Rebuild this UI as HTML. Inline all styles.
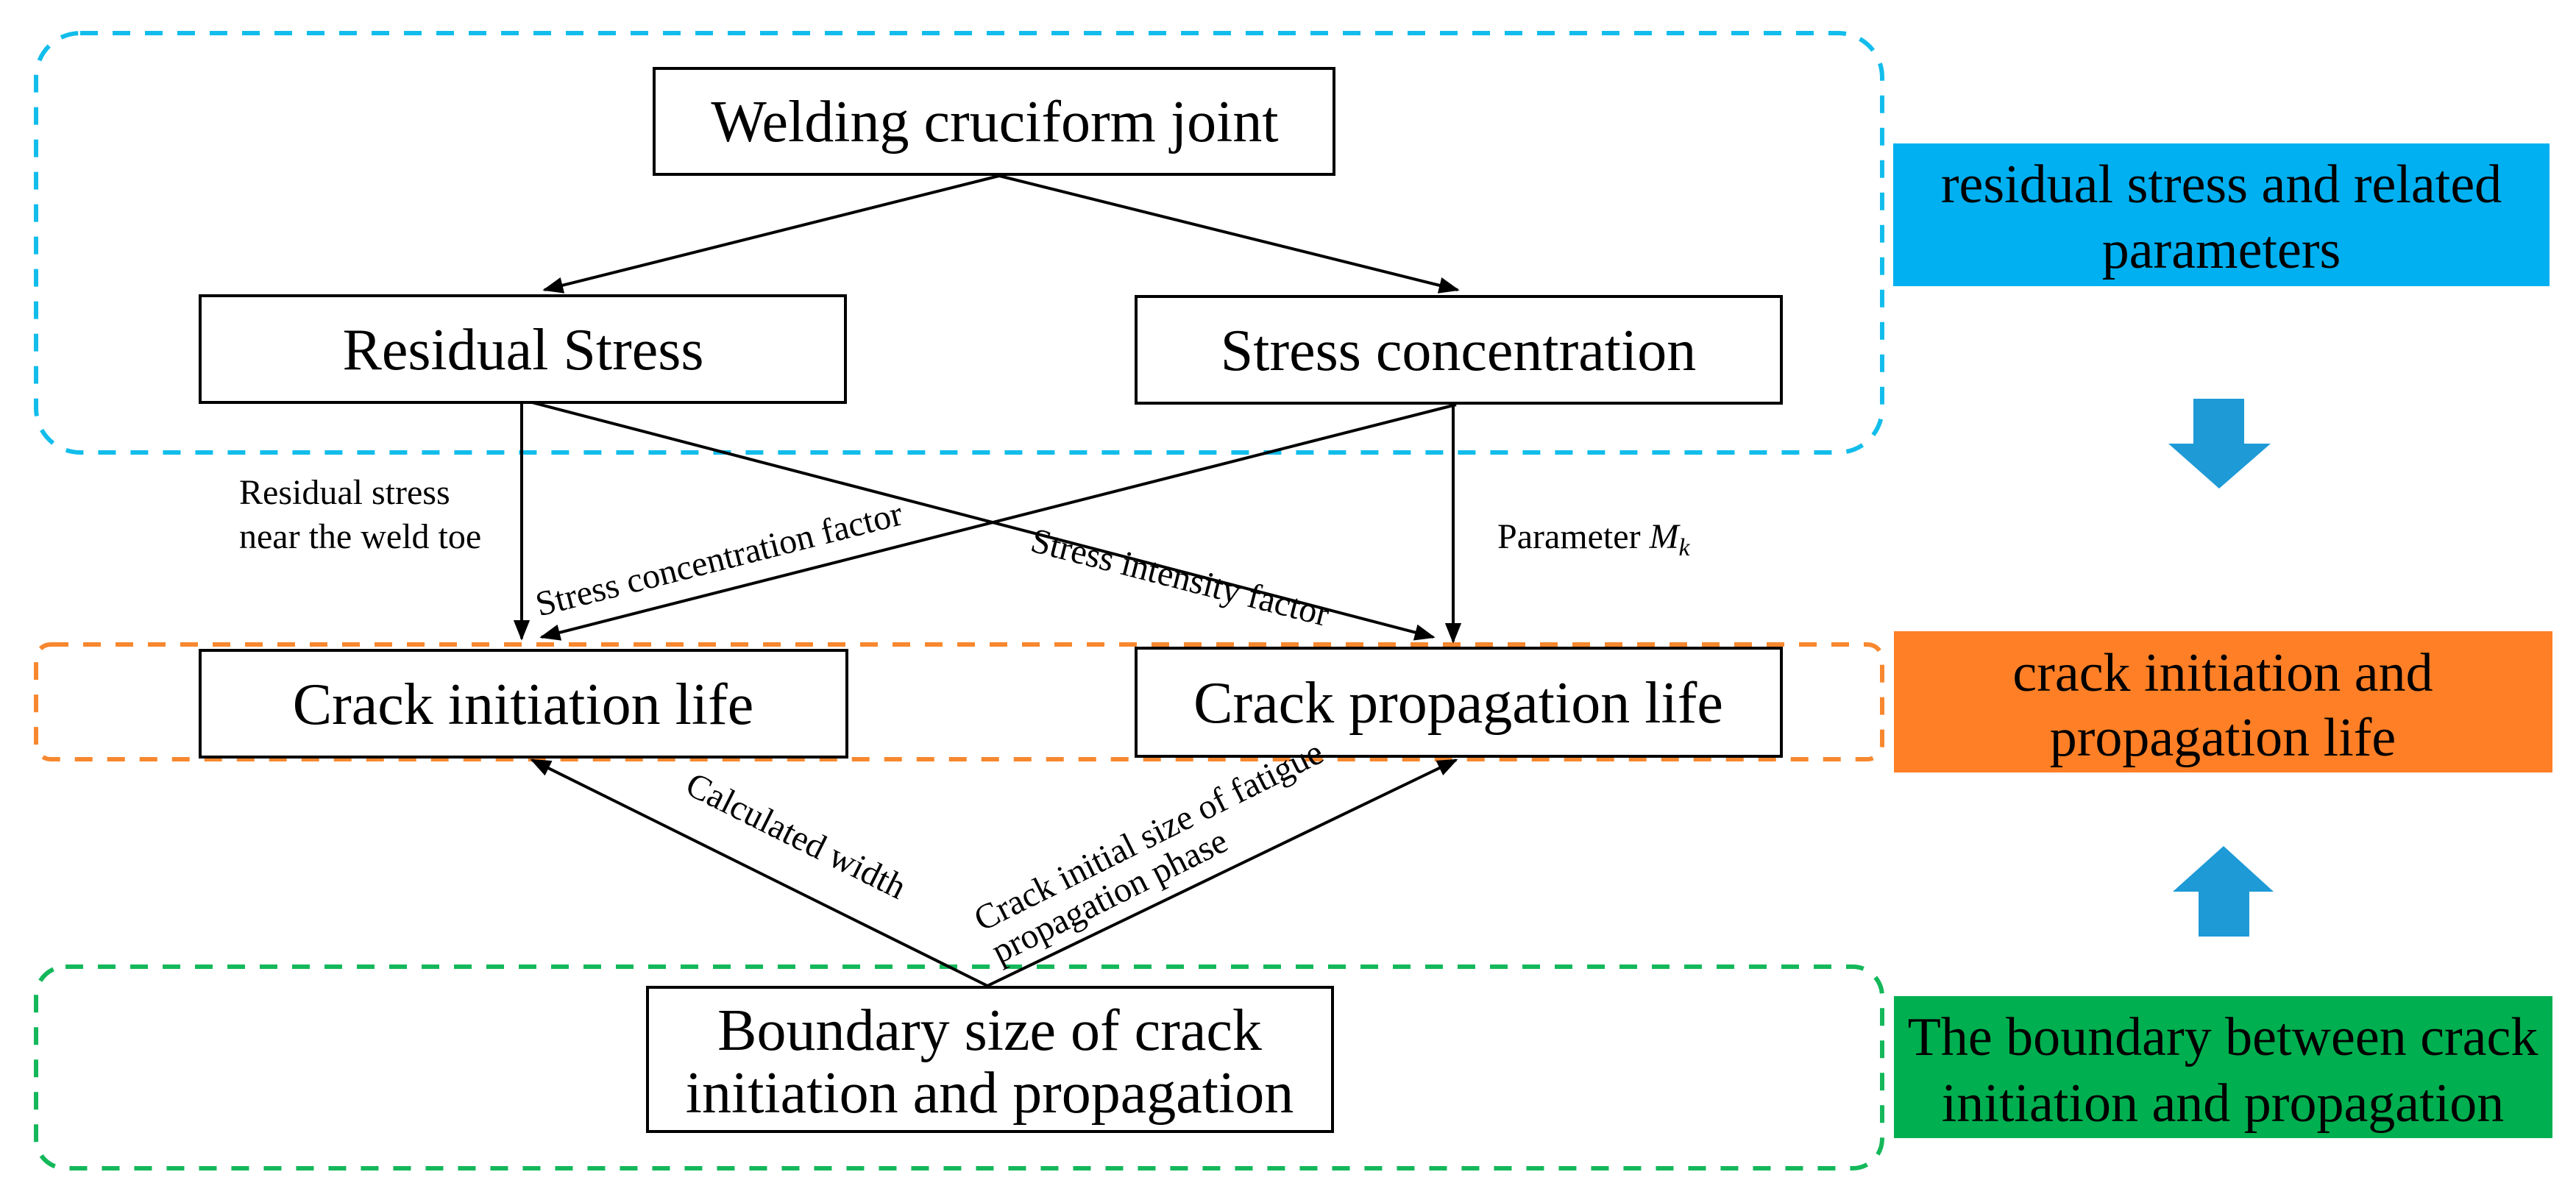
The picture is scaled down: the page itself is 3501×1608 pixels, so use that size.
<!DOCTYPE html>
<html><head><meta charset="utf-8"><style>
html,body{margin:0;padding:0;background:#fff;}
svg{display:block;}
text{font-family:"Liberation Serif",serif;fill:#000;}
</style></head><body>
<svg width="3501" height="1608" viewBox="0 0 3501 1608" xmlns="http://www.w3.org/2000/svg">
<defs>
<marker id="a" viewBox="0 0 10 10" refX="9" refY="5" markerWidth="7" markerHeight="7" orient="auto"><path d="M0,1 L10,5 L0,9 z" fill="#000"/></marker>
</defs>
<rect x="49" y="45" width="2509" height="570" rx="60" fill="none" stroke="#12BDEB" stroke-width="6" stroke-dasharray="24,20"/>
<rect x="49" y="876" width="2509" height="156" rx="20" fill="none" stroke="#F7882F" stroke-width="6" stroke-dasharray="24,20"/>
<rect x="49" y="1314" width="2509" height="274" rx="40" fill="none" stroke="#14B85A" stroke-width="6" stroke-dasharray="24,20"/>

<g fill="#fff" stroke="#000" stroke-width="4">
<rect x="889" y="93" width="924" height="144"/>
<rect x="272" y="402" width="877" height="145"/>
<rect x="1544" y="403" width="877" height="145"/>
<rect x="272" y="884" width="879" height="145"/>
<rect x="1544" y="881" width="877" height="147"/>
<rect x="880" y="1342" width="931" height="196"/>
</g>
<g font-size="80" text-anchor="middle">
<text x="1352" y="192">Welding cruciform joint</text>
<text x="711" y="502">Residual Stress</text>
<text x="1982" y="503">Stress concentration</text>
<text x="711" y="984">Crack initiation life</text>
<text x="1982" y="982">Crack propagation life</text>
<text x="1345" y="1427">Boundary size of crack</text>
<text x="1345" y="1512">initiation and propagation</text>
</g>

<g stroke="#000" stroke-width="4" fill="none" marker-end="url(#a)">
<line x1="1358" y1="239" x2="740" y2="394"/>
<line x1="1358" y1="239" x2="1981" y2="394"/>
<line x1="709" y1="547" x2="709" y2="868"/>
<line x1="723" y1="547" x2="1948" y2="866"/>
<line x1="1979" y1="550" x2="736" y2="866"/>
<line x1="1975" y1="550" x2="1975" y2="872"/>
<line x1="1342" y1="1340" x2="723" y2="1033"/>
<line x1="1342" y1="1340" x2="1979" y2="1033"/>
</g>

<g font-size="48">
<text x="325" y="685">Residual stress</text>
<text x="325" y="745">near the weld toe</text>
<text x="2035" y="745">Parameter <tspan font-style="italic">M</tspan><tspan font-style="italic" font-size="34" dy="10">k</tspan></text>
<text x="0" y="0" text-anchor="middle" transform="translate(981,775) rotate(-14.2)">Stress concentration factor</text>
<text x="0" y="0" text-anchor="middle" transform="translate(1600,800) rotate(14.3)">Stress intensity factor</text>
<text x="0" y="0" text-anchor="middle" transform="translate(1075,1150) rotate(26.5)">Calculated width</text>
<text x="0" y="0" text-anchor="middle" transform="translate(1568,1150) rotate(-26.5)">Crack initial size of fatigue</text>
<text x="0" y="0" text-anchor="middle" transform="translate(1515,1232) rotate(-26.5)">propagation phase</text>
</g>

<rect x="2573" y="195" width="892" height="194" fill="#00B0F0"/>
<rect x="2574" y="858" width="895" height="192" fill="#FE7F26"/>
<rect x="2574" y="1354" width="895" height="193" fill="#00AF4F"/>
<g font-size="74" text-anchor="middle">
<text x="3019" y="275">residual stress and related</text>
<text x="3019" y="364">parameters</text>
<text x="3021" y="939">crack initiation and</text>
<text x="3021" y="1027">propagation life</text>
<text x="3021" y="1434">The boundary between crack</text>
<text x="3021" y="1524">initiation and propagation</text>
</g>
<polygon points="2981,542 3050,542 3050,603 3086,603 3016,664 2947,603 2981,603" fill="#1E9AD6"/>
<polygon points="2988,1273 3057,1273 3057,1212 3090,1212 3022,1150 2953,1212 2988,1212" fill="#1E9AD6"/>
</svg>
</body></html>
